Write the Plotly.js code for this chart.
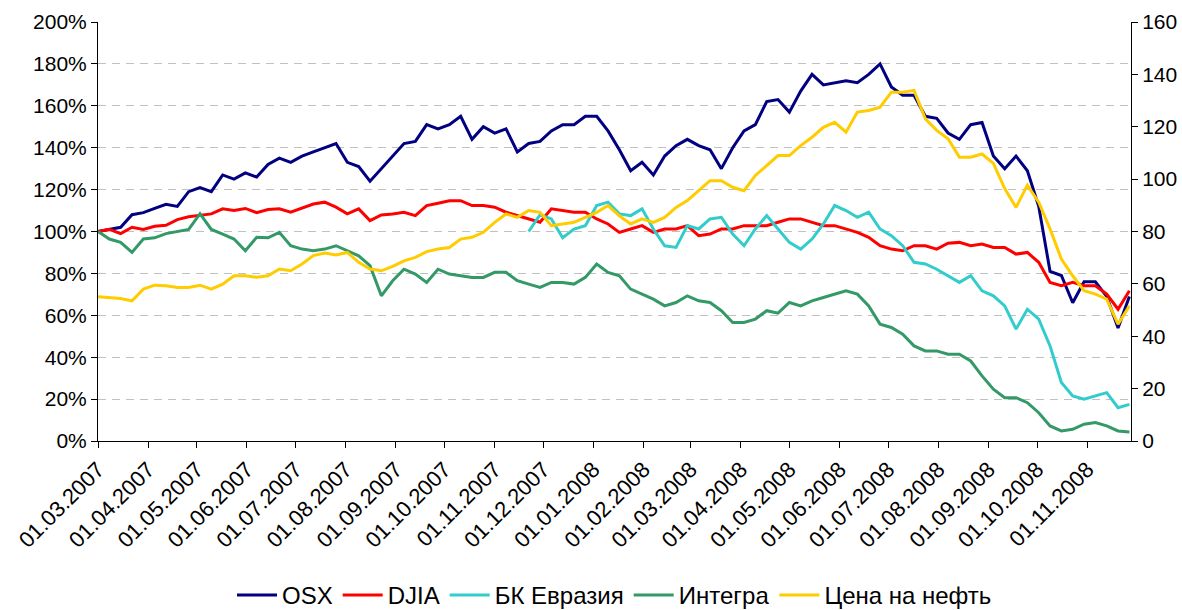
<!DOCTYPE html>
<html>
<head>
<meta charset="utf-8">
<script src="https://cdn.plot.ly/plotly-3.0.1.min.js"></script>
<style>
  html, body { margin: 0; padding: 0; background: #fff; }
  #chart { width: 1182px; height: 610px; }
</style>
</head>
<body>
<div id="chart"></div>
<script>
// Weekly readings, 01.03.2007 - 27.11.2008
const dates = [
    '2007-03-01', '2007-03-08', '2007-03-15', '2007-03-22', '2007-03-29', '2007-04-05', '2007-04-12', '2007-04-19',
    '2007-04-26', '2007-05-03', '2007-05-10', '2007-05-17', '2007-05-24', '2007-05-31', '2007-06-07', '2007-06-14',
    '2007-06-21', '2007-06-28', '2007-07-05', '2007-07-12', '2007-07-19', '2007-07-26', '2007-08-02', '2007-08-09',
    '2007-08-16', '2007-08-23', '2007-08-30', '2007-09-06', '2007-09-13', '2007-09-20', '2007-09-27', '2007-10-04',
    '2007-10-11', '2007-10-18', '2007-10-25', '2007-11-01', '2007-11-08', '2007-11-15', '2007-11-22', '2007-11-29',
    '2007-12-06', '2007-12-13', '2007-12-20', '2007-12-27', '2008-01-03', '2008-01-10', '2008-01-17', '2008-01-24',
    '2008-01-31', '2008-02-07', '2008-02-14', '2008-02-21', '2008-02-28', '2008-03-06', '2008-03-13', '2008-03-20',
    '2008-03-27', '2008-04-03', '2008-04-10', '2008-04-17', '2008-04-24', '2008-05-01', '2008-05-08', '2008-05-15',
    '2008-05-22', '2008-05-29', '2008-06-05', '2008-06-12', '2008-06-19', '2008-06-26', '2008-07-03', '2008-07-10',
    '2008-07-17', '2008-07-24', '2008-07-31', '2008-08-07', '2008-08-14', '2008-08-21', '2008-08-28', '2008-09-04',
    '2008-09-11', '2008-09-18', '2008-09-25', '2008-10-02', '2008-10-09', '2008-10-16', '2008-10-23', '2008-10-30',
    '2008-11-06', '2008-11-13', '2008-11-20', '2008-11-27'
];

// % of the 01.03.2007 level (left axis)
const osx = [
    100, 101, 102, 108, 109, 111, 113, 112, 119, 121, 119, 127, 125, 128, 126, 132,
    135, 133, 136, 138, 140, 142, 133, 131, 124, 130, 136, 142, 143, 151, 149,
    151, 155, 144, 150, 147, 149, 138, 142, 143, 148, 151, 151, 155, 155, 148,
    139, 129, 133, 127, 136, 141, 144, 141, 139, 130, 140, 148, 151, 162, 163,
    157, 167, 175, 170, 171, 172, 171, 175, 180, 169, 165, 165, 155, 154, 147,
    144, 151, 152, 136, 130, 136, 129, 112, 81, 79, 66, 76, 76, 69, 54, 69
];
const djia = [
    100, 101, 99, 102, 101, 102.5, 103, 105.7, 107, 107.6, 108.4, 110.8, 110, 111, 109, 110.5,
    110.8, 109.2, 111, 113.1, 114, 111.6, 108.4, 110.8, 105.2, 107.9, 108.4, 109.2, 107.6, 112.4, 113.5,
    114.7, 114.7, 112.4, 112.4, 111.6, 109.2, 107.6, 106, 104.4, 110.8, 110, 109.2, 109.2, 106, 103.6,
    99.6, 101.2, 102.8, 99.6, 101.2, 101.2, 102.8, 98, 98.8, 101.2, 101.2, 102.8, 102.8, 102.8, 104.4,
    106, 106, 104.4, 102.8, 102.8, 101.2, 99.6, 97.2, 93.2, 91.6, 90.8, 93.2, 93.2, 91.6, 94.4,
    94.8, 93.2, 94, 92.4, 92.4, 89.2, 90, 85.3, 75.7, 74.1, 75.7, 74.1, 74.1, 70.1, 62.9, 71.7
];
const eurasia = [
    null, null, null, null, null, null, null, null, null, null, null, null, null, null, null, null,
    null, null, null, null, null, null, null, null, null, null, null, null, null, null, null,
    null, null, null, null, null, null, null, 100, 108, 106, 97, 101.2, 102.8, 112.4, 114,
    108.4, 107.6, 110.8, 101.2, 93.2, 92.4, 102.8, 101.2, 106, 106.8, 98.8, 93.2, 101.2, 107.6, 101.2,
    94.8, 91.6, 96.4, 103.6, 112.4, 110, 106.8, 109.2, 101.2, 98, 93.2, 85.3, 84.5, 82, 78.9,
    75.7, 78.9, 71.7, 69.3, 64.5, 53.4, 62.9, 58.2, 45.4, 27.9, 21.5, 19.9, 21.5, 23.1, 15.9, 17.5
];
const integra = [
    100, 96.4, 94.8, 90, 96.4, 97, 99, 100, 101, 108.5, 101, 98.8, 96.4, 90.8, 97.2, 97,
    99.6, 93.2, 91.6, 90.8, 91.6, 93.2, 90.8, 88.4, 83.7, 69.3, 76.5, 82, 79.7, 75.7, 82,
    79.7, 78.9, 78.1, 78.1, 80.5, 80.5, 76.5, 74.9, 73.3, 75.7, 75.7, 74.9, 78.1, 84.5, 80.5,
    78.9, 72.5, 70.1, 67.7, 64.5, 66.1, 69.3, 66.9, 66.1, 62.2, 56.6, 56.6, 58.2, 62.2, 61,
    66.1, 64.5, 66.9, 68.5, 70.1, 71.7, 70.1, 64.5, 55.8, 54.2, 51, 45.4, 43, 43, 41.4,
    41.4, 38.2, 31.1, 24.7, 20.7, 20.7, 18.3, 13.5, 7.2, 4.8, 5.6, 8, 8.8, 7.2, 4.8, 4.3
];
// $ per barrel (right axis)
const oil = [
    55.1, 54.8, 54.4, 53.5, 58, 59.5, 59.3, 58.6, 58.6, 59.5, 58, 59.9, 63.1, 63.1, 62.5, 63.1,
    65.7, 65, 67.6, 70.8, 71.8, 71, 72, 68.2, 65.7, 65, 66.7, 68.8, 70.1, 72.3, 73.3,
    73.9, 77.1, 77.8, 79.7, 83.5, 86.7, 85.4, 88, 87.3, 82.2, 82.9, 83.5, 85.4, 87.3, 89.9,
    86, 82.9, 84.8, 83.5, 85.4, 89.2, 91.8, 95.6, 99.4, 99.4, 96.9, 95.6, 101.4, 105.2, 109,
    109, 112.8, 116, 119.8, 121.7, 117.9, 125.6, 126.2, 127.5, 133.2, 133.2, 133.9, 123, 118.6, 115.4,
    108.4, 108.4, 109.6, 106, 96.4, 89.2, 97.7, 91.2, 81, 69.5, 63.1, 57.4, 56.1, 54.2, 44.6, 51.6
];

const monthTicks = [
    '2007-03-01', '2007-04-01', '2007-05-01', '2007-06-01', '2007-07-01', '2007-08-01', '2007-09-01',
    '2007-10-01', '2007-11-01', '2007-12-01', '2008-01-01', '2008-02-01', '2008-03-01', '2008-04-01',
    '2008-05-01', '2008-06-01', '2008-07-01', '2008-08-01', '2008-09-01', '2008-10-01', '2008-11-01'
];
const monthLabels = monthTicks.map(d => d.slice(8, 10) + '.' + d.slice(5, 7) + '.' + d.slice(0, 4));

const font = 'Liberation Sans, Arial, sans-serif';

function line(name, y, color, axis) {
    return {
        x: dates,
        y: y,
        name: name,
        yaxis: axis,
        type: 'scatter',
        mode: 'lines',
        line: { color: color, width: 3 },
        hoverinfo: 'skip'
    };
}

const traces = [
    line('OSX', osx, '#000080', 'y'),
    line('DJIA', djia, '#ff0000', 'y'),
    line('БК Евразия', eurasia, '#33cccc', 'y'),
    line('Интегра', integra, '#339966', 'y'),
    line('Цена на нефть', oil, '#ffcc00', 'y2')
];

const layout = {
    width: 1182,
    height: 610,
    margin: { l: 98, r: 51, t: 22, b: 169 },
    paper_bgcolor: '#fff',
    plot_bgcolor: '#fff',
    font: { family: font, size: 21, color: '#000' },
    showlegend: true,
    legend: {
        orientation: 'h',
        x: 0.5, xanchor: 'center',
        yref: 'container',
        y: 0.024, yanchor: 'middle',
        font: { size: 24 },
        itemwidth: 40
    },
    xaxis: {
        type: 'date',
        range: ['2007-03-01', '2008-11-28'],
        tickvals: monthTicks,
        ticktext: monthLabels,
        tickangle: -45,
        tickfont: { size: 22 },
        ticks: 'outside',
        ticklen: 6,
        tickcolor: '#000',
        showline: true,
        linecolor: '#000',
        showgrid: false,
        zeroline: false,
        automargin: false,
        fixedrange: true
    },
    yaxis: {
        range: [0, 200],
        dtick: 20,
        ticksuffix: '%',
        ticks: 'outside',
        ticklen: 6,
        tickcolor: '#000',
        showline: true,
        linecolor: '#000',
        showgrid: true,
        gridcolor: '#c0c0c0',
        griddash: '8px,6px',
        zeroline: false,
        automargin: false,
        fixedrange: true
    },
    yaxis2: {
        overlaying: 'y',
        side: 'right',
        range: [0, 160],
        dtick: 20,
        ticks: 'outside',
        ticklen: 6,
        tickcolor: '#000',
        showline: true,
        linecolor: '#000',
        showgrid: false,
        zeroline: false,
        automargin: false,
        fixedrange: true
    }
};

Plotly.newPlot('chart', traces, layout, { staticPlot: true });
</script>
</body>
</html>
